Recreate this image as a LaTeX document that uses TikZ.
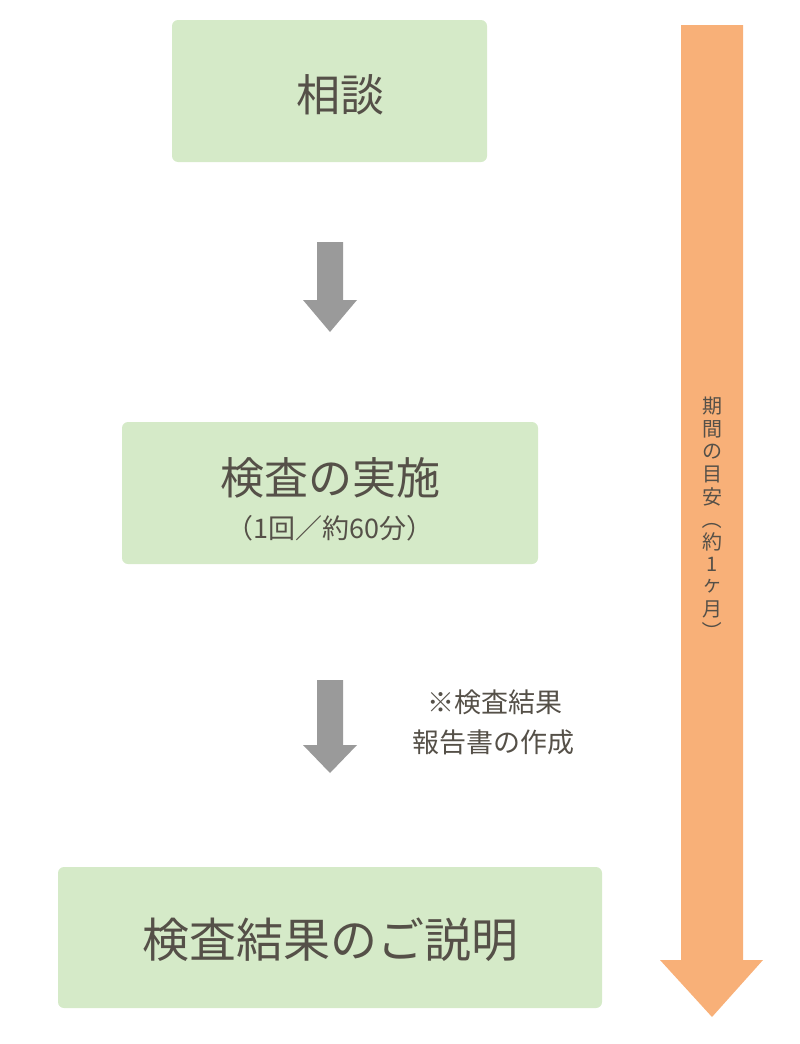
\documentclass[tikz,border=0pt]{standalone}
\usepackage{fontspec}
\setmainfont{Noto Sans CJK JP}
\newfontfamily\cjk{Noto Sans CJK JP}
\definecolor{boxg}{HTML}{D5EAC8}
\definecolor{orng}{HTML}{F8B078}
\definecolor{gry}{HTML}{9A9A9A}
\definecolor{txt}{HTML}{555048}
\begin{document}
\begin{tikzpicture}[x=1pt,y=-1pt,
  box/.style={fill=boxg,rounded corners=6pt,draw=none},
  garrow/.style={fill=gry,draw=none},
  lbl/.style={text=txt,font=\cjk\fontsize{44}{50}\selectfont,inner sep=0pt},
  sub/.style={text=txt,font=\cjk\fontsize{27}{32}\selectfont,inner sep=0pt},
  vt/.style={text=txt,font=\cjk\fontsize{20}{22}\selectfont,inner sep=0pt}]
\useasboundingbox (0,0) rectangle (800,1044);
\fill[box] (172,20) rectangle (487,162);
\node[lbl] (a) at (340,95) {相談};
\fill[box] (122,422) rectangle (538,564);
\node[lbl] (b) at (330,478) {検査の実施};
\node[sub] (b2) at (330,528) {（1回／約60分）};
\fill[box] (58,867) rectangle (602,1008);
\node[lbl,font=\cjk\fontsize{47}{52}\selectfont] (c) at (330,940) {検査結果のご説明};
\fill[garrow] (317,242) -- (343,242) -- (343,300) -- (357,300) -- (330,332) -- (303,300) -- (317,300) -- cycle;
\fill[garrow] (317,680) -- (343,680) -- (343,745) -- (357,745) -- (330,773) -- (303,745) -- (317,745) -- cycle;
\node[sub] (n1) at (495,702) {※検査結果};
\node[sub] (n2) at (493,742) {報告書の作成};
\fill[orng] (681,25) -- (743,25) -- (743,960) -- (763,960) -- (712,1017) -- (660,960) -- (681,960) -- cycle;
\foreach \ch [count=\i] in {期,間,の,目,安,{\rotatebox{-90}{（}},約,1,ヶ,月,{\rotatebox{-90}{）}}}
  \node[vt] (v\i) at (712,{384+22.5*\i}) {\ch};
\end{tikzpicture}
\end{document}
